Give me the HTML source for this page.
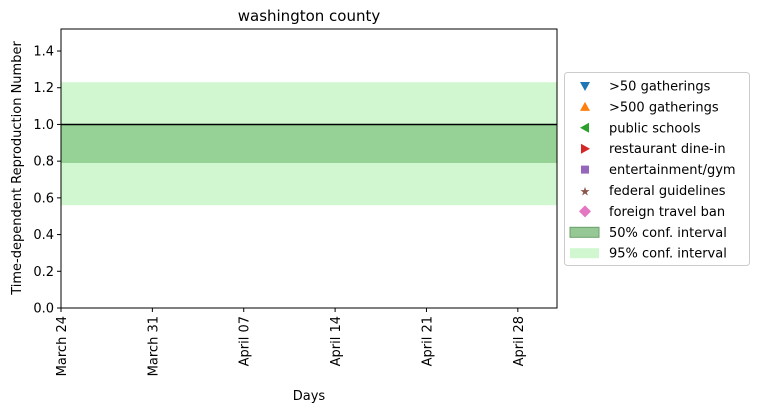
<!DOCTYPE html>
<html><head><meta charset="utf-8"><style>
body{margin:0;background:#fff;width:759px;height:412px;overflow:hidden}
svg{font-family:"DejaVu Sans","Liberation Sans",sans-serif}
</style></head><body>
<svg id="chart" width="759" height="412">
<text x="309" y="21" font-size="15" text-anchor="middle">washington county</text>
<g id="plot"></g>
<text x="309" y="400" font-size="13" text-anchor="middle">Days</text>
<text transform="translate(21,168) rotate(-90)" font-size="13" text-anchor="middle">Time-dependent Reproduction Number</text>
<g id="legend"></g>
</svg>
<script>
const yTicks=[0,0.2,0.4,0.6,0.8,1.0,1.2,1.4];
const xTickLabels=["March 24","March 31","April 07","April 14","April 21","April 28"];
const xTickDays=[0,7,14,21,28,35];
const band95=[0.56,1.23];
const band50=[0.79,1.0];
const refLine=[1.0];
const totalDays=38;
const legendLabels=[">50 gatherings",">500 gatherings","public schools","restaurant dine-in","entertainment/gym","federal guidelines","foreign travel ban","50% conf. interval","95% conf. interval"];
const NS="http://www.w3.org/2000/svg";
const L=61,R=557,T=29,B=308,YMAX=1.52;
const xs=d=>L+(R-L)*d/totalDays;
const ys=v=>B-(B-T)*v/YMAX;
function mk(t,a,p){const e=document.createElementNS(NS,t);for(const k in a)e.setAttribute(k,a[k]);p.appendChild(e);return e;}
const plot=document.getElementById('plot');
let r=mk('rect',{x:L,y:ys(band95[1]),width:R-L,height:ys(band95[0])-ys(band95[1]),fill:'#d1f7d1'},plot);


r=mk('rect',{x:L,y:ys(band50[1]),width:R-L,height:ys(band50[0])-ys(band50[1]),fill:'#96d296'},plot);


let ln=mk('line',{x1:L,x2:R,y1:ys(refLine[0]),y2:ys(refLine[0]),stroke:'#000','stroke-width':1.5},plot);


let fr=mk('rect',{x:L,y:T,width:R-L,height:B-T,fill:'none',stroke:'#000','stroke-width':1},plot);


yTicks.forEach(v=>{const y=ys(v);mk('line',{x1:L-4,x2:L,y1:y,y2:y,stroke:'#000'},plot);
const t=mk('text',{x:L-7,y:y+4.5,'font-size':13,'text-anchor':'end'},plot);t.textContent=v.toFixed(1);

});
xTickDays.forEach((d,i)=>{const x=xs(d);mk('line',{x1:x,x2:x,y1:B,y2:B+4,stroke:'#000'},plot);
const t=mk('text',{transform:`translate(${x+5},${B+8}) rotate(-90)`,'font-size':13,'text-anchor':'end'},plot);t.textContent=xTickLabels[i];

});
const lg=document.getElementById('legend');
mk('rect',{x:564.5,y:72.5,width:185,height:193,rx:3,fill:'#fff',stroke:'#ccc'},lg);
const colors=['#1f77b4','#ff7f0e','#2ca02c','#d62728','#9467bd','#8c564b','#e377c2'];
legendLabels.forEach((lab,i)=>{const y=86+i*20.9,cx=585;let m;
if(i==0)m=mk('path',{d:`M${cx-5} ${y-4}L${cx+5} ${y-4}L${cx} ${y+5}Z`,fill:colors[i]},lg);
else if(i==1)m=mk('path',{d:`M${cx-5} ${y+4}L${cx+5} ${y+4}L${cx} ${y-5}Z`,fill:colors[i]},lg);
else if(i==2)m=mk('path',{d:`M${cx+4} ${y-5}L${cx+4} ${y+5}L${cx-5} ${y}Z`,fill:colors[i]},lg);
else if(i==3)m=mk('path',{d:`M${cx-4} ${y-5}L${cx-4} ${y+5}L${cx+5} ${y}Z`,fill:colors[i]},lg);
else if(i==4)m=mk('rect',{x:cx-4,y:y-4,width:8,height:8,fill:colors[i]},lg);
else if(i==5){m=mk('text',{x:cx,y:y+5,'font-size':12,'text-anchor':'middle',fill:colors[i]},lg);m.textContent='★';}
else if(i==6)m=mk('path',{d:`M${cx} ${y-6}L${cx+6} ${y}L${cx} ${y+6}L${cx-6} ${y}Z`,fill:colors[i]},lg);
else if(i==7)m=mk('rect',{x:570,y:y-5,width:29,height:10,fill:'#96c896',stroke:'#6a9f6a'},lg);
else m=mk('rect',{x:570,y:y-5,width:29,height:10,fill:'#d1f7d1'},lg);


const t=mk('text',{x:609,y:y+4.5,'font-size':13},lg);t.textContent=lab;

});
</script>
</body></html>
